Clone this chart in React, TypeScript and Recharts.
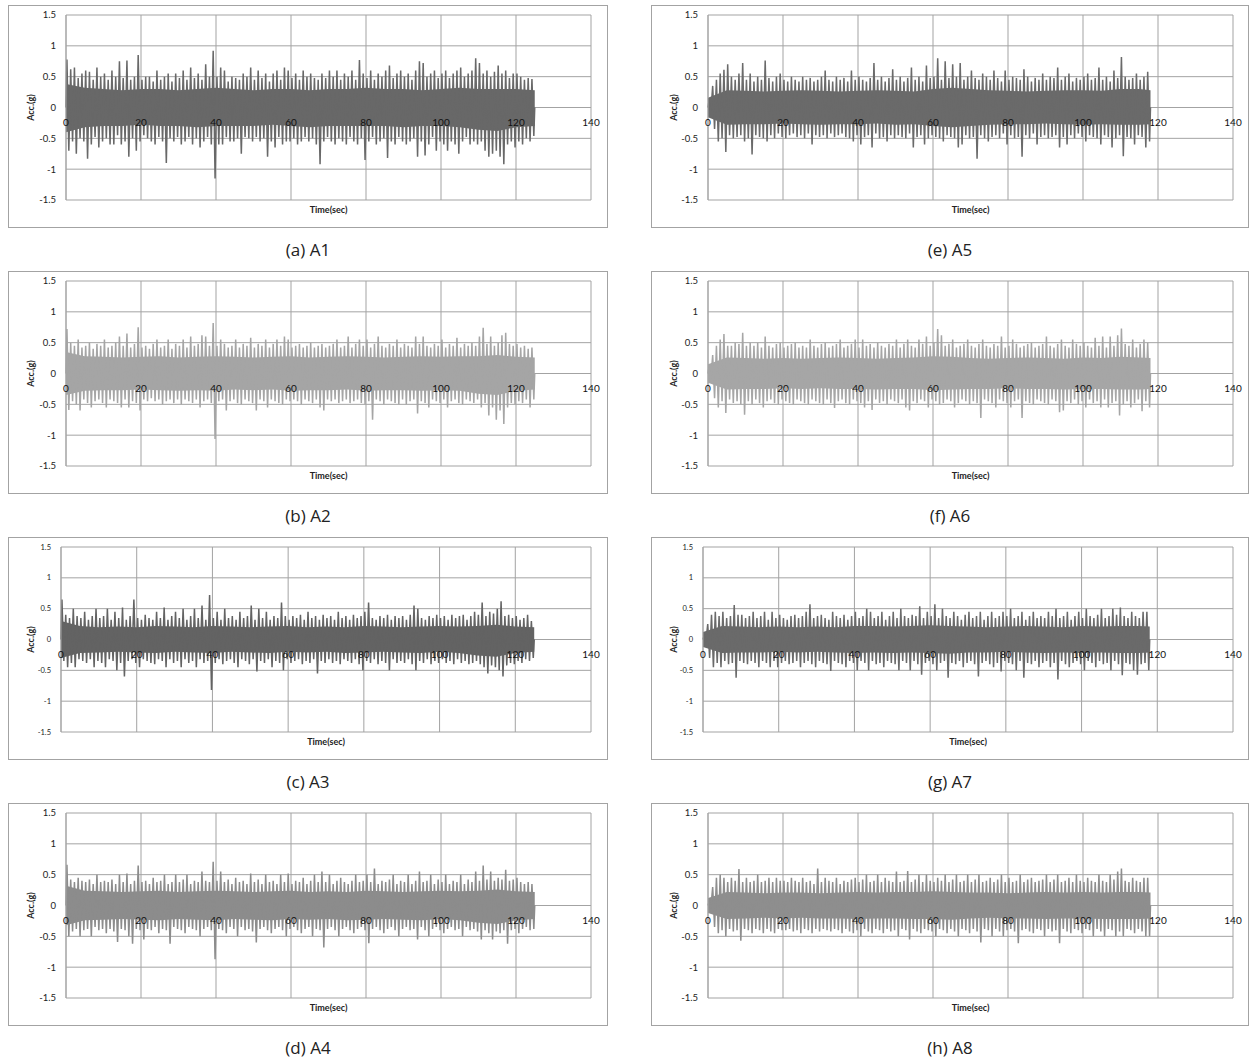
import { ComposedChart, Line, Area, XAxis, YAxis, CartesianGrid } from "recharts";

// time axis (sec) and acceleration axis (g)
const xTicks = [0, 20, 40, 60, 80, 100, 120, 140];
const yTicks = [-1.5, -1, -0.5, 0, 0.5, 1, 1.5];

// per-second positive / negative peaks
const a1Up = [
  .78, .62, .65, .48, .55, .6, .58, .45, .65, .5,
  .55, .45, .6, .5, .75, .48, .76, .45, .5, .85,
  .45, .5, .5, .42, .6, .45, .5, .55, .42, .55,
  .48, .6, .45, .65, .48, .55, .45, .7, .5, .92,
  .5, .65, .6, .42, .5, .48, .45, .55, .5, .65,
  .45, .6, .48, .55, .42, .55, .6, .45, .65, .6,
  .48, .55, .45, .6, .5, .55, .48, .45, .55, .48,
  .6, .5, .6, .45, .55, .5, .6, .45, .77, .55,
  .48, .6, .45, .55, .5, .6, .68, .48, .55, .6,
  .5, .55, .45, .6, .75, .72, .5, .55, .6, .48,
  .55, .6, .48, .55, .6, .65, .5, .55, .6, .8,
  .72, .55, .6, .5, .58, .68, .55, .6, .48, .55,
  .55, .5, .45, .48, .46,
];
const a1Lo = [
  -.7, -.55, -.75, -.5, -.55, -.83, -.6, -.48, -.65, -.55,
  -.5, -.6, -.6, -.45, -.6, -.55, -.8, -.5, -.7, -.55,
  -.45, -.5, -.55, -.6, -.48, -.55, -.9, -.5, -.55, -.48,
  -.6, -.55, -.48, -.6, -.5, -.65, -.55, -.48, -.6, -1.15,
  -.6, -.6, -.48, -.55, -.55, -.5, -.75, -.48, -.5, -.55,
  -.48, -.55, -.5, -.8, -.55, -.65, -.48, -.6, -.55, -.55,
  -.5, -.6, -.55, -.48, -.55, -.5, -.6, -.92, -.55, -.48,
  -.55, -.6, -.5, -.55, -.6, -.48, -.55, -.6, -.5, -.85,
  -.55, -.48, -.6, -.55, -.5, -.82, -.55, -.6, -.48, -.55,
  -.6, -.55, -.5, -.8, -.55, -.78, -.6, -.48, -.7, -.55,
  -.6, -.7, -.55, -.6, -.75, -.55, -.48, -.6, -.55, -.6,
  -.55, -.7, -.8, -.75, -.7, -.8, -.92, -.6, -.55, -.65,
  -.55, -.6, -.5, -.55, -.46,
];
// dense core of the record, read every 5 s
const a1CoreUp = [.38, .32, .3, .28, .3, .3, .28, .3, .32, .3, .28, .3, .3, .28, .3, .3, .32, .3, .3, .28, .3, .32, .3, .3, .3, .28];
const a1CoreLo = [-.4, -.32, -.3, -.3, -.28, -.3, -.3, -.32, -.3, -.3, -.3, -.28, -.3, -.32, -.3, -.3, -.3, -.3, -.32, -.3, -.3, -.32, -.36, -.38, -.32, -.3];

const a2Up = [
  .72, .5, .45, .55, .42, .45, .5, .4, .48, .45,
  .55, .42, .45, .5, .6, .45, .65, .42, .48, .75,
  .42, .45, .4, .48, .55, .42, .45, .55, .4, .48,
  .45, .55, .42, .6, .45, .48, .62, .6, .45, .82,
  .45, .55, .48, .42, .45, .55, .42, .48, .45, .58,
  .42, .48, .45, .55, .42, .48, .55, .45, .6, .55,
  .42, .45, .48, .42, .45, .5, .42, .45, .48, .42,
  .45, .48, .55, .42, .45, .6, .42, .48, .55, .45,
  .55, .42, .48, .6, .45, .42, .48, .45, .55, .42,
  .48, .45, .42, .6, .48, .6, .45, .42, .48, .45,
  .55, .42, .48, .45, .58, .42, .48, .45, .5, .45,
  .6, .74, .48, .6, .45, .5, .62, .66, .48, .45,
  .48, .42, .45, .4, .42,
];
const a2Lo = [
  -.59, -.45, -.5, -.6, -.42, -.48, -.55, -.45, -.42, -.48,
  -.55, -.42, -.45, -.48, -.55, -.42, -.55, -.45, -.48, -.6,
  -.42, -.45, -.4, -.45, -.42, -.5, -.45, -.42, -.48, -.42,
  -.5, -.42, -.45, -.48, -.42, -.55, -.45, -.42, -.48, -1.06,
  -.45, -.42, -.6, -.45, -.42, -.48, -.5, -.42, -.45, -.48,
  -.6, -.42, -.45, -.55, -.42, -.45, -.48, -.5, -.42, -.45,
  -.42, -.45, -.5, -.42, -.45, -.48, -.42, -.55, -.6, -.42,
  -.45, -.42, -.48, -.45, -.42, -.48, -.45, -.42, -.48, -.5,
  -.45, -.75, -.42, -.45, -.5, -.42, -.45, -.48, -.5, -.42,
  -.5, -.45, -.42, -.65, -.45, -.48, -.55, -.42, -.45, -.48,
  -.42, -.55, -.45, -.42, -.48, -.5, -.42, -.45, -.48, -.42,
  -.55, -.48, -.68, -.55, -.75, -.6, -.82, -.55, -.48, -.5,
  -.45, -.48, -.42, -.55, -.42,
];
const a2CoreUp = [.35, .28, .27, .26, .27, .28, .26, .27, .28, .27, .26, .27, .28, .26, .27, .28, .27, .26, .27, .28, .27, .28, .28, .3, .27, .26];
const a2CoreLo = [-.35, -.28, -.27, -.27, -.26, -.27, -.28, -.27, -.28, -.26, -.27, -.26, -.28, -.27, -.27, -.26, -.28, -.27, -.27, -.28, -.27, -.28, -.33, -.35, -.28, -.26];

const a3Up = [
  .65, .4, .35, .5, .38, .35, .45, .32, .38, .5,
  .35, .38, .5, .32, .45, .35, .52, .32, .38, .65,
  .35, .32, .4, .35, .32, .45, .35, .52, .32, .38,
  .45, .35, .5, .32, .38, .5, .35, .55, .32, .72,
  .35, .45, .32, .5, .35, .38, .32, .45, .35, .38,
  .55, .32, .5, .35, .45, .32, .38, .35, .6, .38,
  .32, .38, .35, .4, .32, .45, .35, .38, .32, .4,
  .35, .38, .32, .45, .35, .38, .32, .4, .35, .38,
  .45, .6, .35, .32, .38, .35, .4, .32, .38, .35,
  .38, .32, .4, .55, .5, .35, .32, .38, .35, .4,
  .35, .38, .32, .4, .35, .38, .4, .32, .38, .45,
  .4, .6, .38, .45, .42, .5, .62, .38, .4, .35,
  .38, .32, .35, .4, .3,
];
const a3Lo = [
  -.35, -.45, -.38, -.45, -.32, -.35, -.38, -.32, -.45, -.35,
  -.38, -.45, -.32, -.35, -.5, -.38, -.6, -.35, -.32, -.38,
  -.45, -.32, -.35, -.38, -.4, -.32, -.35, -.45, -.32, -.38,
  -.35, -.45, -.32, -.38, -.35, -.45, -.32, -.38, -.35, -.82,
  -.38, -.32, -.4, -.35, -.32, -.38, -.45, -.32, -.35, -.4,
  -.32, -.52, -.35, -.38, -.32, -.45, -.35, -.38, -.5, -.32,
  -.38, -.35, -.32, -.4, -.35, -.38, -.32, -.55, -.35, -.38,
  -.32, -.38, -.35, -.4, -.32, -.35, -.38, -.32, -.4, -.5,
  -.35, -.38, -.32, -.4, -.35, -.38, -.5, -.32, -.38, -.35,
  -.38, -.32, -.4, -.5, -.35, -.38, -.32, -.4, -.35, -.38,
  -.32, -.38, -.35, -.4, -.32, -.38, -.35, -.4, -.38, -.35,
  -.4, -.45, -.55, -.42, -.45, -.5, -.6, -.42, -.38, -.4,
  -.35, -.38, -.32, -.35, -.3,
];
const a3CoreUp = [.3, .22, .2, .21, .2, .22, .21, .2, .22, .21, .2, .21, .22, .2, .21, .2, .22, .21, .2, .21, .22, .21, .22, .24, .21, .2];
const a3CoreLo = [-.3, -.22, -.21, -.2, -.21, -.22, -.2, -.21, -.22, -.2, -.21, -.22, -.2, -.21, -.2, -.22, -.21, -.2, -.21, -.22, -.2, -.22, -.26, -.28, -.22, -.2];

const a4Up = [
  .66, .42, .38, .45, .4, .38, .42, .35, .5, .38,
  .4, .38, .42, .35, .5, .38, .52, .35, .4, .65,
  .38, .4, .35, .45, .38, .4, .5, .35, .38, .5,
  .38, .42, .5, .35, .4, .38, .55, .4, .38, .71,
  .4, .55, .38, .42, .35, .45, .38, .4, .35, .52,
  .38, .42, .35, .5, .38, .4, .35, .5, .38, .52,
  .35, .4, .38, .45, .35, .4, .5, .38, .55, .38,
  .5, .35, .4, .45, .38, .35, .4, .5, .38, .4,
  .5, .38, .6, .35, .4, .38, .42, .5, .35, .4,
  .38, .5, .35, .4, .55, .38, .4, .5, .35, .42,
  .38, .5, .35, .4, .38, .5, .35, .42, .38, .55,
  .4, .65, .42, .55, .4, .45, .42, .58, .4, .42,
  .45, .38, .35, .38, .35,
];
const a4Lo = [
  -.5, -.42, -.38, -.5, -.4, -.38, -.5, -.35, -.4, -.38,
  -.45, -.38, -.42, -.59, -.38, -.4, -.5, -.62, -.38, -.4,
  -.55, -.38, -.4, -.35, -.45, -.38, -.4, -.62, -.35, -.38,
  -.4, -.45, -.35, -.38, -.4, -.5, -.38, -.35, -.4, -.87,
  -.38, -.4, -.45, -.35, -.38, -.5, -.35, -.4, -.38, -.42,
  -.6, -.38, -.35, -.4, -.45, -.38, -.35, -.4, -.5, -.38,
  -.35, -.4, -.45, -.38, -.35, -.5, -.38, -.4, -.68, -.38,
  -.35, -.4, -.5, -.38, -.35, -.4, -.45, -.38, -.35, -.4,
  -.61, -.38, -.35, -.4, -.45, -.38, -.35, -.4, -.5, -.38,
  -.35, -.4, -.38, -.55, -.35, -.4, -.5, -.38, -.35, -.4,
  -.45, -.38, -.35, -.4, -.38, -.5, -.35, -.4, -.38, -.42,
  -.55, -.4, -.45, -.55, -.42, -.45, -.4, -.62, -.4, -.38,
  -.45, -.38, -.35, -.4, -.38,
];
const a4CoreUp = [.32, .24, .23, .22, .23, .24, .22, .23, .24, .23, .22, .23, .24, .22, .23, .22, .24, .23, .22, .23, .24, .23, .24, .26, .23, .22];
const a4CoreLo = [-.32, -.24, -.23, -.22, -.23, -.24, -.22, -.23, -.24, -.22, -.23, -.24, -.22, -.23, -.22, -.24, -.23, -.22, -.23, -.24, -.22, -.24, -.28, -.3, -.24, -.22];

const a5Up = [
  .1, .35, .45, .55, .61, .7, .5, .45, .55, .72,
  .45, .55, .42, .5, .45, .76, .48, .42, .5, .55,
  .45, .42, .5, .45, .42, .5, .45, .48, .42, .45,
  .5, .6, .45, .42, .5, .45, .48, .42, .6, .45,
  .5, .45, .42, .48, .72, .45, .5, .42, .48, .62,
  .45, .5, .42, .48, .65, .45, .5, .42, .68, .48,
  .5, .8, .45, .75, .48, .7, .5, .72, .45, .5,
  .6, .48, .45, .55, .5, .45, .6, .48, .42, .6,
  .45, .5, .48, .45, .62, .5, .42, .48, .45, .55,
  .45, .5, .48, .65, .45, .5, .55, .42, .48, .45,
  .5, .55, .45, .48, .65, .45, .5, .42, .6, .48,
  .82, .5, .45, .48, .55, .45, .5, .58,
];
const a5Lo = [
  -.1, -.35, -.55, -.5, -.72, -.45, -.5, -.48, -.45, -.55,
  -.5, -.76, -.45, -.48, -.5, -.55, -.45, -.5, -.42, -.48,
  -.5, -.45, -.42, -.48, -.45, -.5, -.42, -.6, -.45, -.48,
  -.45, -.5, -.42, -.48, -.45, -.42, -.48, -.5, -.55, -.45,
  -.6, -.48, -.45, -.65, -.42, -.5, -.48, -.55, -.45, -.5,
  -.45, -.48, -.5, -.42, -.65, -.48, -.45, -.6, -.5, -.45,
  -.48, -.5, -.55, -.45, -.48, -.5, -.65, -.6, -.45, -.5,
  -.48, -.83, -.45, -.5, -.55, -.48, -.45, -.5, -.42, -.6,
  -.45, -.5, -.48, -.8, -.45, -.5, -.42, -.6, -.48, -.45,
  -.5, -.48, -.45, -.65, -.48, -.6, -.45, -.5, -.42, -.48,
  -.55, -.45, -.48, -.5, -.6, -.45, -.48, -.65, -.5, -.45,
  -.79, -.48, -.5, -.6, -.45, -.48, -.65, -.55,
];
const a5CoreUp = [.16, .28, .27, .26, .27, .28, .27, .26, .27, .28, .27, .26, .3, .32, .3, .28, .27, .26, .27, .28, .28, .27, .3, .3, .28];
const a5CoreLo = [-.16, -.28, -.27, -.27, -.26, -.27, -.28, -.27, -.27, -.26, -.28, -.27, -.3, -.32, -.3, -.28, -.27, -.27, -.26, -.27, -.28, -.27, -.28, -.28, -.27];

const a6Up = [
  .1, .3, .45, .55, .64, .45, .45, .5, .48, .66,
  .45, .5, .45, .5, .42, .6, .45, .42, .48, .5,
  .42, .45, .48, .5, .42, .45, .42, .55, .45, .42,
  .48, .5, .42, .45, .48, .55, .42, .45, .48, .55,
  .42, .55, .45, .48, .42, .5, .45, .42, .48, .45,
  .55, .42, .48, .55, .45, .42, .55, .48, .6, .45,
  .5, .72, .62, .45, .48, .55, .42, .45, .48, .55,
  .45, .42, .48, .55, .45, .42, .48, .45, .6, .42,
  .45, .55, .48, .42, .45, .48, .5, .42, .45, .48,
  .6, .45, .42, .48, .55, .45, .42, .55, .48, .45,
  .5, .45, .42, .58, .45, .6, .42, .6, .45, .62,
  .73, .48, .45, .55, .42, .48, .55, .5,
];
const a6Lo = [
  -.1, -.4, -.55, -.45, -.64, -.42, -.48, -.45, -.5, -.67,
  -.45, -.5, -.42, -.48, -.55, -.45, -.42, -.48, -.5, -.42,
  -.45, -.48, -.5, -.42, -.45, -.48, -.5, -.42, -.45, -.48,
  -.5, -.42, -.48, -.56, -.45, -.42, -.48, -.5, -.42, -.45,
  -.48, -.55, -.45, -.59, -.42, -.48, -.45, -.5, -.42, -.45,
  -.48, -.42, -.55, -.6, -.45, -.48, -.42, -.45, -.55, -.42,
  -.45, -.5, -.48, -.42, -.45, -.55, -.48, -.42, -.45, -.5,
  -.45, -.48, -.72, -.42, -.45, -.48, -.55, -.42, -.45, -.48,
  -.55, -.45, -.42, -.72, -.45, -.48, -.5, -.42, -.45, -.48,
  -.5, -.42, -.45, -.63, -.6, -.45, -.48, -.42, -.5, -.45,
  -.55, -.42, -.48, -.45, -.55, -.42, -.55, -.48, -.45, -.68,
  -.5, -.45, -.55, -.48, -.42, -.61, -.45, -.55,
];
const a6CoreUp = [.15, .26, .25, .24, .25, .24, .25, .26, .25, .24, .25, .26, .28, .27, .25, .24, .25, .26, .25, .24, .26, .25, .27, .26, .25];
const a6CoreLo = [-.15, -.26, -.25, -.25, -.24, -.25, -.24, -.25, -.25, -.26, -.25, -.25, -.27, -.26, -.25, -.25, -.24, -.25, -.25, -.26, -.25, -.25, -.26, -.26, -.25];

const a7Up = [
  .05, .25, .4, .45, .38, .45, .35, .38, .56, .4,
  .4, .35, .38, .45, .35, .38, .45, .32, .45, .35,
  .4, .35, .32, .38, .4, .35, .38, .45, .57, .35,
  .38, .4, .35, .32, .45, .38, .35, .4, .32, .38,
  .45, .35, .38, .5, .45, .35, .38, .45, .32, .38,
  .45, .35, .5, .38, .35, .4, .38, .54, .35, .45,
  .38, .57, .35, .5, .38, .35, .45, .38, .32, .4,
  .45, .35, .38, .45, .32, .38, .45, .35, .38, .45,
  .38, .5, .35, .38, .45, .32, .38, .45, .35, .38,
  .35, .45, .38, .5, .35, .38, .45, .32, .38, .45,
  .35, .5, .38, .35, .4, .5, .35, .38, .5, .4,
  .52, .38, .35, .45, .38, .35, .45, .45,
];
const a7Lo = [
  -.05, -.3, -.45, -.38, -.45, -.35, -.4, -.38, -.62, -.35,
  -.38, -.4, -.35, -.38, -.45, -.35, -.38, -.45, -.35, -.45,
  -.38, -.35, -.4, -.38, -.35, -.45, -.38, -.35, -.4, -.45,
  -.35, -.38, -.4, -.51, -.35, -.38, -.4, -.45, -.35, -.38,
  -.5, -.35, -.38, -.5, -.35, -.4, -.38, -.45, -.35, -.38,
  -.4, -.5, -.35, -.38, -.5, -.35, -.4, -.57, -.38, -.35,
  -.4, -.5, -.38, -.35, -.62, -.38, -.4, -.35, -.45, -.38,
  -.35, -.4, -.6, -.38, -.35, -.4, -.45, -.38, -.52, -.35,
  -.38, -.4, -.5, -.35, -.62, -.38, -.4, -.35, -.45, -.38,
  -.35, -.45, -.38, -.65, -.35, -.4, -.45, -.38, -.35, -.4,
  -.5, -.35, -.38, -.45, -.35, -.4, -.38, -.5, -.35, -.4,
  -.58, -.38, -.4, -.5, -.57, -.4, -.38, -.5,
];
const a7CoreUp = [.12, .22, .21, .2, .21, .2, .21, .2, .22, .22, .21, .22, .23, .22, .21, .2, .21, .22, .21, .2, .22, .21, .22, .22, .21];
const a7CoreLo = [-.12, -.22, -.21, -.21, -.2, -.21, -.2, -.21, -.22, -.21, -.22, -.21, -.22, -.23, -.21, -.21, -.2, -.21, -.22, -.21, -.22, -.21, -.22, -.22, -.21];

const a8Up = [
  .05, .3, .45, .5, .45, .38, .45, .4, .59, .38,
  .45, .38, .4, .5, .38, .4, .45, .38, .45, .4,
  .4, .38, .45, .4, .38, .45, .38, .4, .35, .6,
  .38, .45, .4, .38, .45, .35, .4, .38, .42, .45,
  .38, .42, .5, .38, .4, .5, .38, .45, .4, .38,
  .55, .38, .4, .56, .38, .42, .5, .38, .5, .4,
  .38, .45, .4, .5, .38, .42, .5, .38, .4, .5,
  .38, .42, .5, .38, .4, .45, .38, .42, .5, .38,
  .45, .38, .4, .5, .38, .42, .45, .38, .4, .42,
  .5, .38, .42, .5, .38, .4, .45, .38, .5, .4,
  .38, .45, .4, .38, .5, .4, .38, .5, .42, .55,
  .6, .4, .38, .45, .4, .38, .45, .45,
];
const a8Lo = [
  -.05, -.35, -.45, -.4, -.5, -.38, -.42, -.4, -.57, -.38,
  -.4, -.45, -.38, -.4, -.45, -.38, -.42, -.45, -.38, -.4,
  -.4, -.38, -.42, -.4, -.45, -.38, -.4, -.45, -.38, -.42,
  -.38, -.4, -.42, -.38, -.4, -.45, -.38, -.42, -.45, -.4,
  -.5, -.38, -.42, -.45, -.38, -.4, -.45, -.38, -.42, -.4,
  -.5, -.38, -.4, -.55, -.38, -.42, -.45, -.38, -.4, -.42,
  -.5, -.38, -.4, -.45, -.38, -.42, -.5, -.38, -.4, -.45,
  -.38, -.42, -.6, -.38, -.4, -.5, -.38, -.42, -.5, -.4,
  -.38, -.42, -.61, -.4, -.38, -.42, -.45, -.38, -.4, -.5,
  -.38, -.42, -.4, -.61, -.38, -.42, -.45, -.38, -.4, -.45,
  -.38, -.4, -.5, -.38, -.42, -.5, -.38, -.4, -.5, -.42,
  -.5, -.38, -.4, -.45, -.38, -.42, -.5, -.5,
];
const a8CoreUp = [.12, .22, .21, .2, .21, .21, .2, .21, .22, .21, .22, .22, .23, .22, .21, .21, .2, .21, .22, .21, .22, .21, .22, .22, .21];
const a8CoreLo = [-.12, -.22, -.21, -.2, -.21, -.2, -.21, -.21, -.22, -.21, -.21, -.22, -.22, -.23, -.21, -.2, -.21, -.21, -.22, -.21, -.21, -.22, -.22, -.22, -.21];

const TEXT = "#222222";
const GRID = "#a3a3a3";
const FONT = "Lato, 'Liberation Sans', sans-serif";
const CORE_STEP = 5;

// zig-zag between the positive and negative peak of every second
function toPeaks(up: number[], lo: number[]) {
  const pts: { t: number; v: number }[] = [{ t: 0, v: 0 }];
  const n = Math.min(up.length, lo.length);
  for (let i = 0; i < n; i++) {
    pts.push({ t: i + 0.25, v: up[i] });
    pts.push({ t: i + 0.75, v: lo[i] });
  }
  pts.push({ t: n, v: 0 });
  return pts;
}

function toCore(cu: number[], cl: number[], end: number) {
  return cu.map((u, i) => ({ t: Math.min(i * CORE_STEP, end), band: [cl[i], u] }));
}

type PanelProps = {
  caption: string;
  up: number[];
  lo: number[];
  coreUp: number[];
  coreLo: number[];
  color: string;
  left: number;
  top: number;
  width: number;
  axisWidth: number;
  rightGap: number;
  yFont: number;
};

const BOX_H = 223;
const M_TOP = 9;
const X_AXIS_H = 27;

function Panel({ caption, up, lo, coreUp, coreLo, color, left, top, width, axisWidth, rightGap, yFont }: PanelProps) {
  const peaks = toPeaks(up, lo);
  const core = toCore(coreUp, coreLo, Math.min(up.length, lo.length));
  const innerW = width - 2;
  const innerH = BOX_H - 2;
  const plotH = innerH - M_TOP - X_AXIS_H;
  const zeroY = M_TOP + plotH / 2;

  return (
    <>
      <div
        style={{
          position: "absolute",
          left,
          top,
          width,
          height: BOX_H,
          border: `1px solid ${GRID}`,
          boxSizing: "border-box",
          background: "#fff",
        }}
      >
        <ComposedChart width={innerW} height={innerH} margin={{ top: M_TOP, right: rightGap, bottom: 0, left: 0 }}>
          <CartesianGrid stroke={GRID} strokeWidth={1} />
          <YAxis
            type="number"
            domain={[-1.5, 1.5]}
            ticks={yTicks}
            interval={0}
            width={axisWidth}
            axisLine={{ stroke: GRID }}
            tickLine={false}
            tickSize={0}
            tickMargin={10}
            tick={{ fontSize: yFont, fontFamily: FONT, fill: TEXT }}
            label={(p: any) => {
              const vb = p.viewBox;
              const cx = 21;
              const cy = vb.y + vb.height / 2;
              return (
                <text
                  x={cx}
                  y={cy}
                  transform={`rotate(-90, ${cx}, ${cy})`}
                  textAnchor="middle"
                  dominantBaseline="central"
                  fontSize={9}
                  fontWeight={700}
                  fontFamily={FONT}
                  fill={TEXT}
                >
                  Acc.(g)
                </text>
              );
            }}
          />
          <Area
            data={core}
            type="linear"
            dataKey="band"
            stroke="none"
            fill={color}
            fillOpacity={1}
            dot={false}
            activeDot={false}
            isAnimationActive={false}
          />
          <Line
            data={peaks}
            type="linear"
            dataKey="v"
            stroke={color}
            strokeWidth={1.5}
            dot={false}
            activeDot={false}
            isAnimationActive={false}
          />
          <XAxis
            type="number"
            dataKey="t"
            domain={[0, 140]}
            ticks={xTicks}
            interval={0}
            height={X_AXIS_H}
            axisLine={false}
            tickLine={false}
            allowDuplicatedCategory={false}
            tick={(p: any) => (
              <text x={p.x} y={zeroY + 18} textAnchor="middle" fontSize={10} fontFamily={FONT} fill="#111">
                {p.payload.value}
              </text>
            )}
            label={(p: any) => {
              const vb = p.viewBox;
              return (
                <text x={vb.x + vb.width / 2} y={vb.y + 13} textAnchor="middle" fontSize={9} fontWeight={700} fontFamily={FONT} fill={TEXT}>
                  Time(sec)
                </text>
              );
            }}
          />
        </ComposedChart>
      </div>
      <div
        style={{
          position: "absolute",
          left,
          top: top + 233,
          width,
          textAlign: "center",
          fontFamily: "'Open Sans', sans-serif",
          fontSize: 17,
          lineHeight: "24px",
          color: "#222",
        }}
      >
        {caption}
      </div>
    </>
  );
}

const rowTops = [5, 271, 537, 803];

export default function App() {
  const leftCol = { left: 8, width: 600, rightGap: 16 };
  const rightCol = { left: 651, width: 598, rightGap: 15 };
  return (
    <div style={{ position: "absolute", left: 0, top: 0, width: 1251, height: 1060, background: "#fff" }}>
      <Panel caption="(a) A1" up={a1Up} lo={a1Lo} coreUp={a1CoreUp} coreLo={a1CoreLo} color="#686868" top={rowTops[0]} {...leftCol} axisWidth={57} yFont={9.5} />
      <Panel caption="(b) A2" up={a2Up} lo={a2Lo} coreUp={a2CoreUp} coreLo={a2CoreLo} color="#a5a5a5" top={rowTops[1]} {...leftCol} axisWidth={57} yFont={9.5} />
      <Panel caption="(c) A3" up={a3Up} lo={a3Lo} coreUp={a3CoreUp} coreLo={a3CoreLo} color="#636363" top={rowTops[2]} {...leftCol} axisWidth={52} yFont={7.5} />
      <Panel caption="(d) A4" up={a4Up} lo={a4Lo} coreUp={a4CoreUp} coreLo={a4CoreLo} color="#8c8c8c" top={rowTops[3]} {...leftCol} axisWidth={57} yFont={9.5} />
      <Panel caption="(e) A5" up={a5Up} lo={a5Lo} coreUp={a5CoreUp} coreLo={a5CoreLo} color="#6a6a6a" top={rowTops[0]} {...rightCol} axisWidth={56} yFont={9.5} />
      <Panel caption="(f) A6" up={a6Up} lo={a6Lo} coreUp={a6CoreUp} coreLo={a6CoreLo} color="#a6a6a6" top={rowTops[1]} {...rightCol} axisWidth={56} yFont={9.5} />
      <Panel caption="(g) A7" up={a7Up} lo={a7Lo} coreUp={a7CoreUp} coreLo={a7CoreLo} color="#6a6a6a" top={rowTops[2]} {...rightCol} axisWidth={51} yFont={7.5} />
      <Panel caption="(h) A8" up={a8Up} lo={a8Lo} coreUp={a8CoreUp} coreLo={a8CoreLo} color="#8e8e8e" top={rowTops[3]} {...rightCol} axisWidth={56} yFont={9.5} />
    </div>
  );
}
